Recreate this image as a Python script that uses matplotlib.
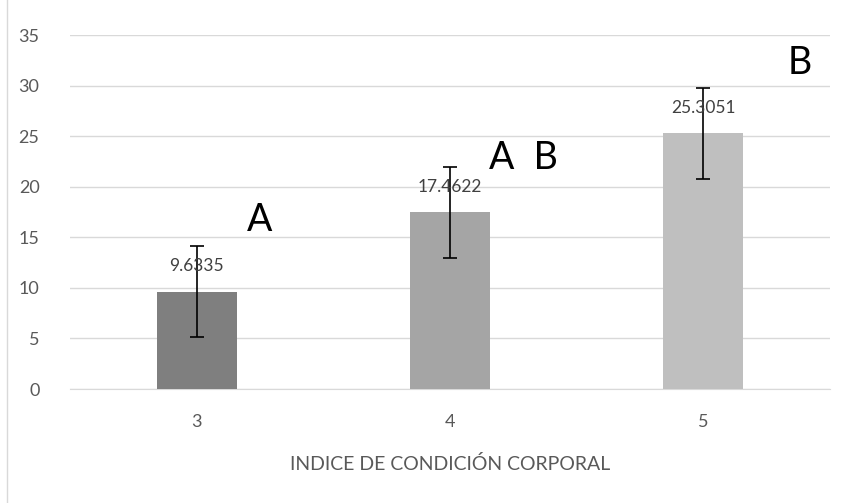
import matplotlib
matplotlib.use("Agg")
import matplotlib.pyplot as plt
from matplotlib.lines import Line2D

categories = ["3", "4", "5"]
values = [9.6335, 17.4622, 25.3051]
errors = [4.5, 4.5, 4.5]
value_labels = ["9.6335", "17.4622", "25.3051"]
letters = ["A", "A  B", "B"]
letter_y = [16.7, 22.9, 32.3]
letter_dx = [0.25, 0.29, 0.38]
colors = ["#7f7f7f", "#a5a5a5", "#bfbfbf"]
yticks = [0, 5, 10, 15, 20, 25, 30, 35]

plt.rcParams['font.family'] = ['Lato', 'DejaVu Sans']

fig = plt.figure(figsize=(8.44, 5.03), dpi=100)
ax = fig.add_axes([0.083, 0.2266, 0.9, 0.7034])

x = list(range(len(categories)))
ax.bar(x, values, width=0.316, color=colors, zorder=3)
ax.errorbar(x, values, yerr=errors, fmt='none', ecolor='black', elinewidth=1.2,
            capsize=5, capthick=1.2, zorder=4)

for xi, v, lab in zip(x, values, value_labels):
    ax.text(xi, v + 2.5, lab, ha='center', va='center', fontsize=12.5, color='#404040', zorder=5)

for xi, ly, dx, L in zip(x, letter_y, letter_dx, letters):
    ax.text(xi + dx, ly, L, ha='center', va='center', fontsize=27, color='black', zorder=5)

ax.set_xlim(-0.5, 2.5)
ax.set_ylim(0, 35)
ax.set_yticks(yticks)
ax.set_xticks(x)
ax.set_xticklabels(categories)
ax.yaxis.grid(True, color='#d9d9d9', linewidth=1.0, zorder=0)
ax.set_axisbelow(True)
for s in ['top', 'right', 'left']:
    ax.spines[s].set_visible(False)
ax.spines['bottom'].set_color('#d9d9d9')
ax.tick_params(axis='both', length=0, labelsize=13, labelcolor='#595959')
ax.tick_params(axis='y', pad=22)
ax.tick_params(axis='x', pad=18)
ax.set_xlabel("INDICE DE CONDICIÓN CORPORAL", fontsize=14, color='#595959', labelpad=18)

fig.add_artist(Line2D([0.008, 0.008], [0.0, 1.0], color='#d9d9d9', linewidth=1.0,
                      transform=fig.transFigure))

fig.savefig("out.png", dpi=100)
